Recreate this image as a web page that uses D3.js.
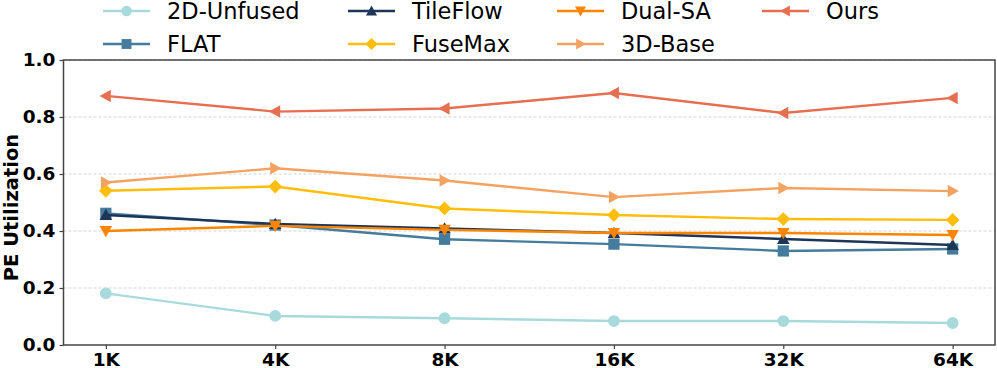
<!DOCTYPE html>
<html>
<head>
<meta charset="utf-8">
<script src="https://cdn.jsdelivr.net/npm/d3@7"></script>
<style>
	body { margin: 0; background: #fff; }
	svg { display: block; font-family: "DejaVu Sans", sans-serif; }
</style>
</head>
<body>
<svg id="chart" width="997" height="368"></svg>
<script>
// data
const categories = ["1K", "4K", "8K", "16K", "32K", "64K"];
const yTicks = [0.0, 0.2, 0.4, 0.6, 0.8, 1.0];

const unfused2d = [0.181, 0.102, 0.094, 0.084, 0.084, 0.077];
const flat = [0.462, 0.421, 0.371, 0.354, 0.330, 0.337];
const tileflow = [0.456, 0.425, 0.409, 0.393, 0.372, 0.351];
const fusemax = [0.541, 0.556, 0.479, 0.456, 0.442, 0.439];
const dualsa = [0.400, 0.418, 0.404, 0.393, 0.393, 0.386];
const base3d = [0.570, 0.620, 0.577, 0.519, 0.551, 0.540];
const ours = [0.874, 0.819, 0.830, 0.884, 0.814, 0.867];

const series = [
	{ name: "2D-Unfused", values: unfused2d, color: "#a8dadc", marker: "circle" },
	{ name: "FLAT", values: flat, color: "#457b9d", marker: "square" },
	{ name: "TileFlow", values: tileflow, color: "#1d3557", marker: "triUp" },
	{ name: "FuseMax", values: fusemax, color: "#ffbe0b", marker: "diamond" },
	{ name: "Dual-SA", values: dualsa, color: "#fb8500", marker: "triDown" },
	{ name: "3D-Base", values: base3d, color: "#f4a261", marker: "triRight" },
	{ name: "Ours", values: ours, color: "#e76f51", marker: "triLeft" }
];

const svg = d3.select("#chart");
const plotLeft = 63.5, plotRight = 995, plotTop = 60, plotBottom = 345;

const x = d3.scalePoint().domain(categories).range([plotLeft, plotRight]).padding(0.25);
const y = d3.scaleLinear().domain([0, 1]).range([plotBottom, plotTop]);

// grid
svg.append("g")
	.selectAll("line")
	.data(yTicks.slice(1))
	.join("line")
	.attr("x1", plotLeft).attr("x2", plotRight)
	.attr("y1", d => y(d)).attr("y2", d => y(d))
	.attr("stroke", "#c8c8c8")
	.attr("stroke-width", 0.8)
	.attr("stroke-dasharray", "3,2");

// markers
function markerPath(type, s) {
	const r = s / 2;
	switch (type) {
		case "circle": return d3.symbol(d3.symbolCircle, Math.PI * r * r * 0.9)();
		case "square": return `M${-r * 0.9},${-r * 0.9}H${r * 0.9}V${r * 0.9}H${-r * 0.9}Z`;
		case "diamond": return `M0,${-r * 1.1}L${r * 1.1},0L0,${r * 1.1}L${-r * 1.1},0Z`;
		case "triUp": return `M0,${-r}L${r},${r * 0.8}L${-r},${r * 0.8}Z`;
		case "triDown": return `M0,${r}L${r},${-r * 0.8}L${-r},${-r * 0.8}Z`;
		case "triRight": return `M${r},0L${-r * 0.8},${-r}L${-r * 0.8},${r}Z`;
		case "triLeft": return `M${-r},0L${r * 0.8},${-r}L${r * 0.8},${r}Z`;
	}
}

const line = d3.line()
	.x((d, i) => x(categories[i]))
	.y(d => y(d));

const lines = svg.append("g");
series.forEach(s => {
	const g = lines.append("g");
	g.append("path")
		.attr("d", line(s.values))
		.attr("fill", "none")
		.attr("stroke", s.color)
		.attr("stroke-width", 2.4);
	g.selectAll("path.m")
		.data(s.values)
		.join("path")
		.attr("class", "m")
		.attr("d", markerPath(s.marker, 12.5))
		.attr("transform", (d, i) => `translate(${x(categories[i])},${y(d)})`)
		.attr("fill", s.color);
});

// axes
const xAxis = svg.append("g")
	.attr("transform", `translate(0,${plotBottom})`)
	.call(d3.axisBottom(x).tickSize(4).tickPadding(4).tickSizeOuter(0));
const yAxis = svg.append("g")
	.attr("transform", `translate(${plotLeft},0)`)
	.call(d3.axisLeft(y).tickValues(yTicks).tickFormat(d3.format(".1f")).tickSize(4).tickPadding(4).tickSizeOuter(0));

[xAxis, yAxis].forEach(a => {
	a.select(".domain").remove();
	a.selectAll("line").attr("stroke", "#444").attr("stroke-width", 1.2);
	a.selectAll("text")
		.attr("fill", "#000")
		.style("font-size", "18.5px")
		.style("font-weight", "bold")
		.style("font-family", "DejaVu Sans");
});

// frame
svg.append("rect")
	.attr("x", plotLeft).attr("y", plotTop)
	.attr("width", plotRight - plotLeft).attr("height", plotBottom - plotTop)
	.attr("fill", "none")
	.attr("stroke", "#444")
	.attr("stroke-width", 1.5);

// y label
svg.append("text")
	.attr("transform", `translate(11,${(plotTop + plotBottom) / 2 + 5}) rotate(-90)`)
	.attr("text-anchor", "middle")
	.attr("dominant-baseline", "central")
	.style("font-size", "19.5px")
	.style("font-weight", "bold")
	.text("PE Utilization");

// legend, column-major, 4 columns
const colX = [103, 348, 557, 762];
const rowY = [11, 44];
const legend = svg.append("g");
series.forEach((s, i) => {
	const cx = colX[Math.floor(i / 2)], cy = rowY[i % 2];
	const g = legend.append("g").attr("transform", `translate(${cx},${cy})`);
	g.append("line")
		.attr("x1", 0).attr("x2", 47)
		.attr("stroke", s.color).attr("stroke-width", 2.4);
	g.append("path")
		.attr("d", markerPath(s.marker, 11))
		.attr("transform", "translate(23.5,0)")
		.attr("fill", s.color);
	g.append("text")
		.attr("x", 64)
		.attr("dominant-baseline", "central")
		.style("font-size", "22.5px")
		.text(s.name);
});
</script>
</body>
</html>
